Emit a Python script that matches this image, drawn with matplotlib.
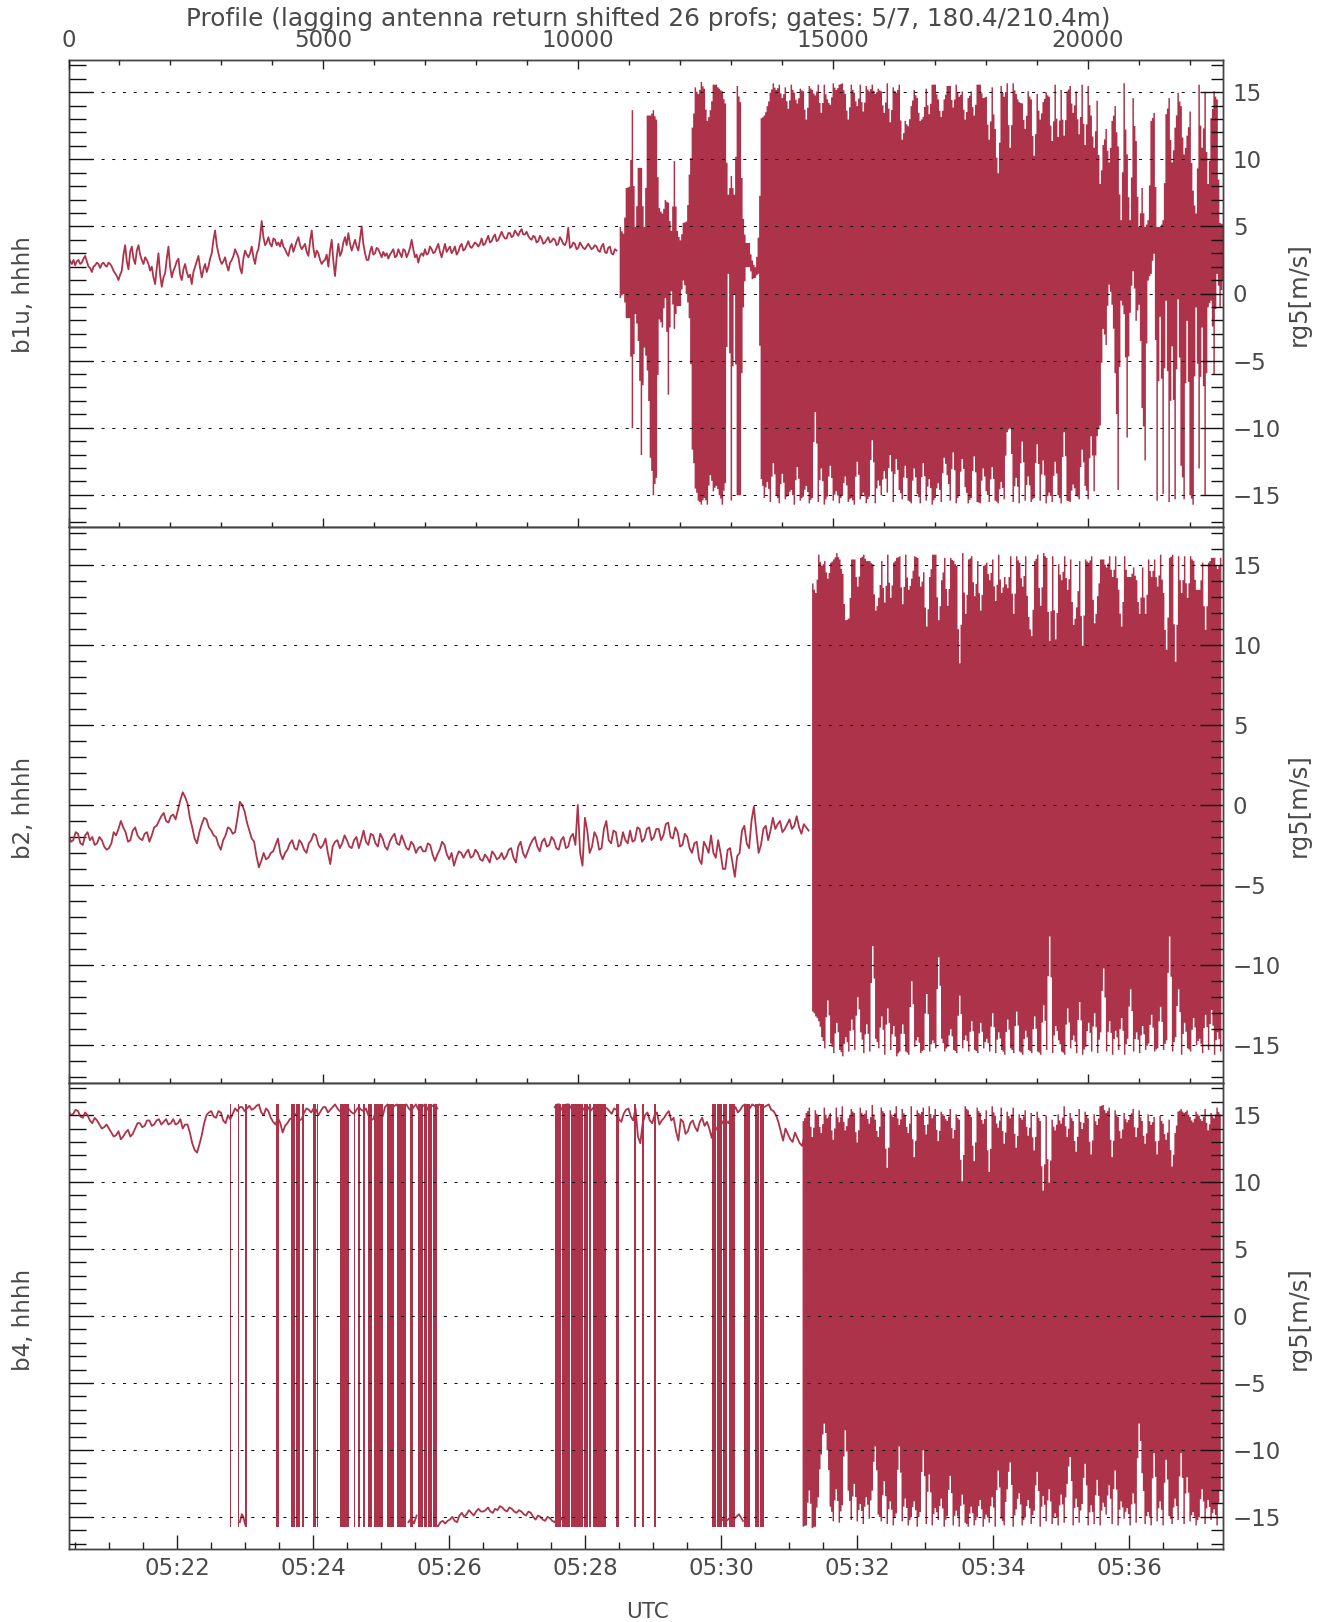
import numpy as np
import matplotlib
matplotlib.use("Agg")
import matplotlib.pyplot as plt
from matplotlib.ticker import FixedLocator, FuncFormatter

plt.rcParams['font.family'] = ['DejaVu Sans']
plt.rcParams['lines.scale_dashes'] = False
plt.rcParams['axes.unicode_minus'] = True

W, H = 1329, 1622
COL = '#AD334B'
INK = '#4a4a4a'

title_text = "Profile (lagging antenna return shifted 26 profs; gates: 5/7, 180.4/210.4m)"
panel_names = ["b1u, hhhh", "b2, hhhh", "b4, hhhh"]
right_name = "rg5[m/s]"
x_name = "UTC"
profile_ticks = [0, 5000, 10000, 15000, 20000]
utc_major = [22, 24, 26, 28, 30, 32, 34, 36]
y_major = [-15, -10, -5, 0, 5, 10, 15]

# time range in minutes after 05:00, profile range
t_range = (20.4, 37.38)
prof_range = (0, 22650)
y_range = (-17.4, 17.4)

# ---- b1u ------------------------------------------------------------------
b1u_quiet_start, b1u_quiet_step = 20.4, 0.049
b1u_quiet = [2.7,2.2,2.1,2.5,2.3,2.8,2.0,1.6,2.1,2.2,2.2,2.1,2.3,2.0,1.5,1.0,1.7,3.6,1.8,3.5,2.2,3.6,2.5,2.7,2.2,2.0,0.7,3.0,0.5,1.5,
3.5,1.2,2.0,2.6,1.0,2.2,1.2,0.7,2.0,2.8,1.2,2.2,2.0,3.0,4.7,3.0,2.2,2.7,1.7,2.5,3.3,2.7,1.5,3.2,2.7,3.5,2.2,3.3,5.4,3.6,
4.2,3.5,4.0,3.8,4.0,3.3,2.8,3.7,3.5,4.2,3.3,3.7,2.8,4.7,2.7,3.0,2.2,2.5,2.0,4.0,1.3,3.7,3.1,4.2,4.5,3.2,4.0,3.2,5.0,3.0,
2.5,3.5,3.0,3.3,2.7,2.8,2.6,3.1,2.7,3.3,2.7,3.2,3.0,4.0,2.7,2.3,3.0,3.3,3.0,3.3,3.1,3.7,2.7,3.7,3.3,
3.0,3.5,3.1,3.7,3.3,3.9,3.4,3.8,3.5,4.1,3.7,4.3,3.9,4.4,4.0,4.6,4.1,4.5,4.2,4.7,4.3,4.8,4.4,4.3,4.0,4.2,3.9,4.1,3.8,4.2,
3.9,4.0,3.7,4.0,3.6,4.9,3.5,3.7,3.4,3.6,3.3,3.7,3.3,3.6,3.2,3.5,3.1,3.4,3.0,3.3,2.9]
b1u_quiet_mid = [2.4,2.5,2.4,2.2,2.6,2.4,1.9,2.0,2.3,1.9,2.3,2.0,2.2,1.7,1.3,1.4,2.9,2.4,3.1,2.6,3.2,2.9,2.2,2.5,1.7,1.2,1.9,1.4,1.2,2.6,
2.0,1.7,2.4,1.4,1.8,1.6,1.4,1.6,2.4,1.9,1.8,1.6,2.6,4.0,3.6,2.5,2.4,2.1,2.3,2.8,3.0,1.9,2.6,2.9,3.0,2.7,3.0,4.2,4.2,3.8,
3.7,4.1,3.6,3.5,3.5,3.0,3.4,3.1,3.9,3.6,3.5,3.1,3.9,3.4,3.2,2.5,2.4,2.9,3.2,2.4,2.7,2.8,3.8,3.6,3.7,3.6,3.5,4.1,3.7,2.5,
3.1,2.9,3.4,3.0,3.1,3.0,2.9,3.3,2.8,3.0,3.3,2.7,3.4,3.3,2.9,2.8,2.8,2.9,3.5,3.0,3.4,3.1,3.2,3.1,3.5,
3.2,2.9,3.5,3.2,3.6,3.5,3.6,3.7,3.7,3.6,4.0,3.8,4.2,3.9,4.3,4.3,4.1,4.5,4.3,4.5,4.6,4.4,4.6,4.1,4.3,3.8,4.3,3.7,4.0,3.8,
4.1,3.6,4.2,3.7,3.9,3.4,3.8,3.3,3.8,3.4,3.5,3.5,3.4,3.5,3.1,3.7,3.0,3.5,2.9,3.2]
b1u_band_start, band_step = 28.51, 0.0441
b1u_hi = [5.0,4.5,7.9,8.0,13.7,5.0,9.4,9.4,5.0,13.3,13.3,13.7,13.0,6.4,6.0,7.0,6.8,4.7,9.9,4.7,4.0,5.3,5.4,8.9,
12.4,15.4,14.9,15.8,15.3,12.9,13.7,15.6,15.6,15.3,15.1,14.2,7.4,8.8,7.4,15.5,14.3,5.6,3.8,3.8,2.5,2.0,4.2,
13.1,13.3,14.0,15.0,15.7,15.2,15.6,14.6,15.4,13.8,15.6,15.0,14.2,15.3,15.1,13.0,15.5,15.2,14.8,15.6,13.5,15.6,14.5,14.1,
15.7,15.2,15.6,15.7,14.9,13.0,15.6,15.0,14.0,15.6,13.6,15.5,15.1,15.6,14.9,15.3,
15.1,13.5,15.7,12.8,15.4,15.0,15.6,11.5,12.9,12.5,14.0,15.2,14.6,12.9,13.2,15.3,13.4,15.6,15.6,14.5,13.2,14.5,15.5,15.5,13.9,15.6,14.7,15.1,13.0,14.6,
15.1,13.3,15.6,15.6,14.6,14.7,11.5,15.4,12.3,9.0,15.5,14.7,15.7,10.9,15.7,14.9,14.3,14.2,12.3,15.1,14.5,10.3,14.9,13.0,14.3,15.0,14.7,11.4,15.6,11.7,
15.2,11.8,15.1,15.5,13.5,15.1,11.9,15.6,11.1,15.5,13.3,10.9,14.4,
8.2,11.1,12.3,9.8,12.9,14.0,11.0,5.5,15.7,10.4,5.5,14.6,11.4,5.0,7.9,5.0,5.5,12.9,13.5,5.0,5.0,5.5,13.4,14.6,9.8,12.4,15.0,14.0,10.4,11.8,
13.6,7.7,6.0,15.6,10.9,15.0,8.2,13.1,15.1,14.5,5.3,5.2]
b1u_lo = [-0.3,0.0,-1.8,-1.8,-10.0,-1.5,-3.5,-12.0,-4.0,-5.7,-12.2,-15.0,-13.7,-1.9,-2.5,-0.3,-7.5,0.2,-2.6,-0.9,-0.9,1.0,0.0,-1.8,
-11.6,-14.5,-15.4,-15.7,-15.2,-15.7,-13.5,-14.7,-14.3,-15.0,-15.7,-14.1,1.5,-15.4,0.0,-15.0,-15.0,-1.0,2.0,2.0,1.1,1.2,1.5,
-13.8,-15.2,-14.0,-15.5,-12.6,-15.0,-15.6,-13.4,-15.3,-15.0,-14.6,-15.7,-12.9,-15.4,-15.1,-14.3,-15.6,-15.2,-8.8,-15.5,-13.0,-15.7,-15.1,-12.8,
-15.4,-14.7,-15.6,-15.0,-13.6,-15.5,-15.2,-15.7,-12.5,-15.3,-14.8,-15.6,-15.1,-10.9,-15.6,-13.9,
-15.0,-13.2,-14.8,-12.0,-15.5,-12.3,-14.6,-15.3,-12.8,-15.4,-15.6,-13.0,-14.9,-15.6,-12.6,-15.4,-13.8,-15.7,-15.2,-14.1,-15.5,-12.2,-13.5,-15.4,-11.8,-15.6,-15.0,-12.3,-14.4,-15.6,
-15.2,-12.1,-15.5,-15.6,-13.0,-14.7,-15.5,-12.9,-15.4,-15.6,-14.0,-15.3,-10.3,-10.0,-15.5,-13.7,-15.6,-11.0,-15.4,-13.6,-15.5,-15.2,-11.2,-15.4,-12.4,-15.6,-14.8,-15.5,-12.5,-15.0,
-15.6,-10.3,-15.4,-15.5,-14.2,
-15.0,-15.3,-11.6,-14.3,-15.3,-10.6,-14.7,-10.6,-9.8,-2.6,-3.8,0.7,-0.8,-5.9,-14.6,-0.5,-1.5,-10.7,-1.4,1.7,
-2.0,-0.8,-8.5,-12.4,1.0,1.5,3.0,-15.4,-1.7,-14.9,-0.5,-15.5,-3.9,-15.3,-0.4,-12.8,-15.3,-2.0,-15.0,-15.7,
-1.0,-13.0,-2.5,-15.0,-1.0,-0.5,-6.0,1.5,-1.0,1.0]

# ---- b2 -------------------------------------------------------------------
b2_quiet_start, b2_quiet_step = 20.4, 0.07
b2_quiet = [-1.9,-2.2,-1.8,-2.5,-1.7,-2.0,-2.4,-2.2,-2.8,-2.4,-1.9,-1.0,-1.7,-2.2,-1.4,-2.1,-1.8,-2.3,-1.4,-1.0,
-0.5,-1.1,-0.6,-0.3,0.8,0.1,-1.4,-2.4,-1.2,-0.9,-1.6,-2.0,-2.8,-1.9,-1.5,-1.7,0.2,-0.4,-1.6,-2.3,
-3.9,-3.0,-3.3,-2.9,-2.1,-3.4,-2.8,-2.2,-2.8,-2.4,-3.0,-2.2,-1.9,-2.7,-2.1,-3.7,-2.3,-2.7,-1.9,-2.6,
-2.2,-2.7,-1.6,-2.5,-1.9,-2.6,-2.1,-2.8,-2.0,-2.4,-1.9,-2.7,-2.3,-3.0,-2.6,-2.9,-2.5,-3.5,-2.8,-2.5,
-3.4,-3.8,-2.9,-3.3,-2.8,-3.2,-3.0,-3.5,-3.3,-2.9,-3.4,-3.0,-3.2,-2.7,-3.6,-2.3,-3.3,-2.5,-2.0,-2.9,
-2.1,-2.5,-2.2,-2.8,-2.0,-2.6,-1.8,0.0,-3.8,-1.6,-2.6,-2.0,-2.7,-1.0,-2.4,-1.7,-2.5,-2.2,-1.6,-2.2,
-1.5,-2.1,-1.4,-2.0,-1.5,-1.9,-1.1,-2.1,-1.7,-2.5,-2.0,-3.0,-2.3,-3.7,-2.6,-1.9,-3.3,-3.0,-4.0,-2.7,
-4.5,-3.0,-1.3,-2.7,-0.1,-3.0,-1.5,-2.2,-0.8,-1.2,-1.7,-1.2,-1.5,-0.7,-1.8,-1.4,-1.0]
b2_quiet_mid = [-2.3,-1.7,-2.4,-1.9,-2.2,-2.5,-2.0,-2.6,-2.7,-1.7,-1.5,-1.4,-2.3,-1.6,-1.9,-2.2,-1.7,-1.9,-1.3,-0.7,
-1.0,-0.7,-0.9,0.3,0.5,-0.8,-2.1,-1.7,-0.8,-1.4,-1.9,-2.5,-2.2,-1.4,-1.8,-0.8,0.0,-1.1,-2.1,-3.2,
-3.5,-3.4,-3.0,-2.5,-3.0,-3.0,-2.4,-2.7,-2.2,-2.8,-2.4,-1.8,-2.5,-2.5,-3.0,-2.6,-2.2,-2.4,-2.2,-2.7,
-2.0,-2.2,-2.3,-1.8,-2.4,-1.8,-2.6,-2.3,-1.8,-2.5,-2.3,-2.8,-2.5,-2.7,-2.9,-2.4,-3.1,-3.1,-2.3,-3.1,
-3.0,-3.3,-3.0,-3.0,-3.3,-2.8,-3.4,-3.1,-3.6,-3.1,-3.3,-3.4,-2.8,-3.3,-2.6,-3.0,-2.9,-2.2,-2.6,-2.3,
-2.6,-2.0,-2.7,-2.2,-2.7,-2.0,-2.5,-3.0,-0.8,-3.0,-1.7,-2.8,-1.5,-2.2,-1.6,-2.6,-1.7,-2.4,-2.3,-1.4,
-2.3,-1.5,-2.2,-1.5,-2.2,-1.2,-2.0,-1.4,-2.6,-1.8,-2.7,-2.4,-3.4,-2.3,-3.0,-3.0,-2.2,-4.0,-2.8,-3.6,
-3.2,-1.6,-2.4,-1.0,-1.6,-2.5,-1.3,-1.6,-1.5,-1.0,-1.5,-0.9,-1.3,-1.4,-1.2,-1.6]
b2_band_start = 31.34
b2_hi = [13.9,13.3,15.7,15.0,15.3,14.2,15.2,15.4,15.8,15.4,14.5,11.6,11.7,15.4,15.4,13.7,15.5,15.7,15.3,15.3,
15.1,12.2,13.0,15.3,12.7,15.7,13.0,15.2,15.5,15.6,12.6,15.7,13.5,14.2,15.6,15.5,13.7,14.6,11.2,14.3,
15.7,15.7,11.6,14.1,15.5,12.5,15.5,15.3,15.0,8.9,15.8,12.0,15.4,15.6,13.1,15.3,12.2,15.0,15.2,14.1,
15.4,12.8,15.7,13.3,14.3,13.6,15.6,12.0,15.6,15.2,13.7,15.6,11.8,10.6,15.3,15.7,12.5,15.8,15.5,10.3,
15.6,10.4,15.1,14.1,15.6,13.5,15.4,11.3,12.4,15.3,10.0,15.4,15.2,15.6,11.4,13.1,15.4,15.4,14.9,15.6,
14.3,15.6,13.5,11.2,15.6,14.3,14.3,14.9,14.1,12.0,14.9,12.0,15.4,14.3,15.4,13.7,15.7,13.3,9.75,15.5,
15.7,9.0,15.6,13.3,15.6,13.0,15.6,15.3,13.5,13.5,15.2,11.0,15.2,15.5,15.5,14.8,15.5]
b2_lo = [-12.9,-13.2,-13.5,-14.5,-15.2,-12.2,-14.9,-15.5,-13.6,-15.3,-15.7,-14.5,-15.4,-13.4,-15.3,-12.0,-14.2,-15.5,-13.7,-15.4,
-8.8,-14.6,-15.2,-13.2,-15.6,-12.7,-15.3,-13.8,-15.7,-15.4,-13.7,-15.4,-15.6,-11.0,-15.1,-14.5,-15.5,-15.3,-11.8,-15.4,
-14.7,-15.2,-9.5,-14.6,-15.4,-15.1,-14.0,-15.3,-15.5,-11.9,-15.2,-14.4,-15.4,-13.5,-15.3,-15.5,-13.6,-15.2,-14.6,-15.4,
-13.0,-15.5,-14.2,-15.3,-15.6,-13.4,-15.2,-15.5,-12.9,-15.4,-15.6,-14.1,-15.3,-15.5,-13.2,-15.4,-15.6,-12.5,-15.3,-8.2,
-15.5,-13.8,-14.7,-15.4,-15.6,-12.7,-15.2,-14.4,-15.5,-12.3,-15.6,-15.1,-13.6,-15.4,-13.0,-15.5,-14.2,-10.2,-15.4,-13.5,
-15.6,-14.1,-15.3,-13.3,-15.6,-14.6,-11.5,-15.4,-14.2,-15.5,-13.8,-15.3,-14.9,-13.1,-15.4,-15.2,-12.6,-15.3,-14.7,-8.2,
-15.4,-14.5,-11.5,-15.6,-13.6,-15.2,-15.4,-13.3,-15.0,-14.6,-15.5,-13.1,-15.3,-12.8,-15.6,-14.2,-15.4]

# ---- b4 -------------------------------------------------------------------
b4_upper_a_start, b4_upper_step = 20.4, 0.07
b4_upper_a = [15.3,15.1,15.3,14.8,15.0,14.4,14.6,14.0,14.3,13.7,13.5,13.2,13.7,13.4,14.0,14.4,14.2,14.6,14.3,14.7,
14.5,14.3,14.7,14.4,14.0,14.3,12.9,12.2,13.5,15.0,15.3,14.8,15.2,14.4,14.7,15.5,15.6,15.3,15.7,15.5,
15.8,15.0,15.3,14.5,14.8,13.7,14.4,14.8,15.0,14.7,15.5,15.2,15.4,15.3,15.6,15.4,15.8,15.3,15.6,15.4,
15.1,15.6,15.3,15.0,14.7,15.5,14.9,15.8,15.5,15.8,15.4,15.8,15.3,15.8,15.5,15.8,15.6,15.8]
b4_upper_a_mid = [15.0,15.4,14.9,15.2,14.6,14.8,14.3,14.1,14.0,13.4,13.8,13.4,13.9,13.6,14.4,14.1,14.6,14.2,14.6,14.3,
14.7,14.4,14.3,14.7,14.3,13.7,12.4,12.8,14.4,15.2,14.9,15.3,14.6,15.0,15.1,15.3,15.6,15.5,15.4,15.7,
15.2,15.5,14.8,14.3,14.4,14.2,14.7,15.1,14.6,15.2,15.4,15.5,15.0,15.6,15.2,15.6,15.5,15.4,15.7,15.2,
15.4,15.4,15.5,14.6,15.2,15.2,15.6,15.4,15.7,15.3,15.7,15.5,15.6,15.4,15.7,15.4,15.7,15.5]
b4_upper_b_start = 27.55
b4_upper_b = [15.6,15.8,15.5,15.8,15.5,15.7,15.4,15.6,15.5,15.6,15.2,15.5,15.1,15.4,14.5,15.4,14.9,15.5,12.9,15.0,
14.6,15.0,14.3,14.8,15.3,14.8,13.1,14.5,13.8,14.6,13.8,14.8,14.5,13.3,14.0,14.3,14.6,14.8,15.6,15.4,
15.8,15.5,15.7,15.8,15.6,15.8,15.3,14.5,13.1,13.6,13.0,13.3,12.7,13.3,12.7,13.1,12.0,12.4,12.0,12.6,
12.3,12.6]
b4_upper_b_mid = [15.8,15.4,15.8,15.5,15.7,15.4,15.7,15.3,15.7,15.3,15.6,15.3,15.5,14.7,15.1,15.5,14.6,13.4,14.4,15.2,
14.4,15.2,14.6,15.1,14.6,13.8,14.7,13.6,14.4,14.1,14.5,14.2,14.0,14.3,13.7,14.6,14.4,15.3,15.2,15.7,
15.4,15.8,15.5,15.7,15.7,15.4,15.0,13.8,14.0,13.2,13.7,12.9,13.5,13.0,12.5,13.0,12.3,12.1,12.7,12.2,12.7,12.2]
b4_lower_start, b4_lower_step = 25.8, 0.07
b4_lower = [-15.6,-15.4,-15.5,-15.2,-15.3,-14.9,-15.0,-14.5,-14.9,-14.4,-14.6,-14.3,-14.7,-14.5,-14.3,-14.6,-14.4,-14.7,-14.6,-14.9,
-14.7,-15.2,-15.0,-15.3,-15.1,-15.4,-14.9,-15.3]
b4_lower_mid = [-15.7,-15.3,-15.3,-15.0,-15.4,-14.7,-14.8,-14.7,-14.6,-14.6,-14.5,-14.6,-14.4,-14.2,-14.5,-14.3,-14.6,-14.5,-14.8,-14.6,
-15.0,-14.9,-15.2,-15.0,-15.3,-15.1,-15.2,-15.4]
b4_small_t = [22.92, 22.95, 22.97, 23.0, 25.4, 25.44, 25.48, 25.52, 29.95, 30.0, 30.05, 30.1, 30.14, 30.2, 30.26, 30.32]
b4_small_v = [-15.4, -14.8, -15.0, -15.6, -15.4, -15.1, -15.5, -14.9, -15.3, -15.1, -15.4, -15.2, -15.0, -15.1, -14.8, -15.3]
burst_start = [22.775,22.90,22.996,23.45,23.67,23.75,23.83,24.00,24.06,24.39,24.60,24.66,24.73,24.81,24.89,25.08,25.23,25.42,25.54,25.63,25.69,25.76,
27.55,27.66,27.79,27.98,28.06,28.11,28.45,28.72,28.83,29.01,29.86,29.94,30.03,30.12,30.33,30.49,30.57]
burst_end = [22.79,22.91,23.02,23.50,23.73,23.80,23.87,24.04,24.07,24.53,24.62,24.69,24.76,24.87,25.03,25.18,25.37,25.46,25.61,25.67,25.74,25.82,
27.65,27.78,27.96,28.04,28.09,28.30,28.49,28.74,28.86,29.04,29.93,30.01,30.09,30.20,30.42,30.55,30.63]
burst_hi, burst_lo = 15.85, -15.75
b4_band_start = 31.20
b4_hi = [14.6,15.2,15.6,13.4,15.4,15.0,13.7,15.6,14.8,15.2,13.2,15.6,14.5,15.7,13.9,14.8,15.5,15.2,13.0,15.6,
15.0,15.4,14.4,15.8,14.7,13.4,15.6,15.2,11.1,15.4,14.9,15.7,14.3,15.5,15.0,13.7,15.7,11.9,15.4,15.1,
15.6,13.6,15.7,14.8,15.5,13.1,15.3,15.0,14.6,15.5,13.3,15.1,14.7,10.1,15.7,15.4,14.9,11.6,15.6,15.2,
14.4,15.4,10.8,15.7,15.0,14.1,15.6,12.9,15.3,14.8,15.6,12.6,15.1,14.7,15.4,13.5,15.2,12.4,15.3,14.6,
9.4,15.0,10.0,14.7,13.9,15.1,14.4,15.7,13.4,15.2,14.6,12.3,15.5,14.0,15.3,14.8,12.1,15.1,14.3,15.7,
15.8,15.2,15.6,11.9,15.4,14.9,13.3,15.2,14.5,15.0,15.5,13.4,15.4,14.6,12.9,15.1,14.3,14.9,12.1,15.0,
14.4,13.2,14.7,11.2,13.7,15.3,15.5,15.2,15.4,14.9,14.5,15.3,15.0,14.6,15.5,13.9,15.2,14.8,15.6,15.1]
b4_lo = [-15.7,-15.6,-13.0,-15.8,-15.7,-13.5,-10.3,-8.0,-10.0,-14.2,-15.3,-12.9,-15.4,-14.1,-8.5,-13.0,-15.2,-12.5,-15.3,-14.0,
-15.5,-13.5,-15.1,-13.0,-9.7,-14.8,-15.3,-12.3,-15.5,-13.8,-15.6,-14.7,-9.7,-15.3,-13.6,-15.6,-15.0,-13.8,-15.7,-14.6,
-10.0,-15.5,-11.8,-15.6,-14.3,-15.2,-13.6,-15.7,-14.9,-11.9,-15.6,-14.5,-15.7,-13.3,-15.4,-15.7,-14.2,-15.6,-15.0,-13.7,
-15.7,-14.8,-15.4,-13.5,-15.7,-11.5,-15.1,-15.6,-12.9,-10.9,-15.7,-14.4,-13.2,-15.6,-15.0,-13.7,-15.5,-14.5,-11.6,-15.7,
-13.4,-15.3,-12.9,-15.5,-14.7,-15.6,-13.3,-15.4,-12.5,-10.5,-15.6,-13.6,-15.4,-14.0,-11.0,-15.6,-14.1,-15.5,-12.2,-15.6,
-13.9,-14.8,-12.6,-15.5,-11.5,-15.6,-13.8,-15.1,-14.3,-15.6,-13.2,-15.4,-8.0,-11.7,-15.5,-14.6,-15.6,-10.2,-15.3,-13.8,
-15.6,-10.7,-14.9,-15.5,-13.6,-15.2,-10.2,-15.5,-12.0,-15.3,-14.6,-15.6,-15.0,-12.9,-15.5,-13.7,-15.2,-14.4,-15.6,-13.0]


def px_axes(top, bottom):
    left, right = 68.5, 1223.0
    return fig.add_axes([left / W, 1 - bottom / H, (right - left) / W, (bottom - top) / H])


def plot_woven(ax, start, step, a, b):
    """One trace whose samples alternate between the two read-off lists."""
    n = min(len(a), len(b))
    x = start + np.arange(2 * n) * step / 2
    y = np.empty(2 * n)
    y[0::2] = a[:n]
    y[1::2] = b[:n]
    ax.plot(x, y, color=COL, lw=1.3, zorder=2)


def draw_band(ax, start, step, hi, lo):
    """Each read-off column is drawn narrow; between columns the edge sits nearer the inner one."""
    n = min(len(hi), len(lo))
    hi = np.asarray(hi[:n], float)
    lo = np.asarray(lo[:n], float)
    c = start + np.arange(n) * step
    w = step * 0.25
    xs, ys_hi, ys_lo = [], [], []
    for i in range(n):
        j = min(i + 1, n - 1)
        xs += [c[i] - w, c[i] + w]
        ys_hi += [hi[i], min(hi[i], hi[j]) + 0.35 * abs(hi[i] - hi[j])]
        ys_lo += [lo[i], max(lo[i], lo[j]) - 0.35 * abs(lo[i] - lo[j])]
    ax.fill_between(xs, ys_lo, ys_hi, step='post', color=COL, lw=0, zorder=2)


fig = plt.figure(figsize=(W / 100, H / 100), dpi=100)
axes = [px_axes(60, 527), px_axes(527, 1083), px_axes(1083, 1549)]
LW = 1.0
QLW = 1.3

# data
a1, a2, a3 = axes
plot_woven(a1, b1u_quiet_start, b1u_quiet_step, b1u_quiet, b1u_quiet_mid)
draw_band(a1, b1u_band_start, band_step, b1u_hi, b1u_lo)
plot_woven(a2, b2_quiet_start, b2_quiet_step, b2_quiet, b2_quiet_mid)
draw_band(a2, b2_band_start, band_step, b2_hi, b2_lo)
plot_woven(a3, b4_upper_a_start, b4_upper_step, b4_upper_a, b4_upper_a_mid)
plot_woven(a3, b4_upper_b_start, b4_upper_step, b4_upper_b, b4_upper_b_mid)
plot_woven(a3, b4_lower_start, b4_lower_step, b4_lower, b4_lower_mid)
a3.plot(b4_small_t[:4], b4_small_v[:4], color=COL, lw=QLW, zorder=2)
a3.plot(b4_small_t[4:8], b4_small_v[4:8], color=COL, lw=QLW, zorder=2)
a3.plot(b4_small_t[8:], b4_small_v[8:], color=COL, lw=QLW, zorder=2)
for s, e in zip(burst_start, burst_end):
    a3.fill_between([s, e], [burst_lo, burst_lo], [burst_hi, burst_hi], color=COL, lw=0, zorder=2)
draw_band(a3, b4_band_start, band_step, b4_hi, b4_lo)

minor_y = np.arange(-17, 18)
minor_prof = np.arange(0, 23000, 1000)
minor_t = np.arange(20.5, 37.5, 0.5)

for i, ax in enumerate(axes):
    ax.set_xlim(*t_range)
    ax.set_ylim(*y_range)
    for sp in ax.spines.values():
        sp.set_linewidth(LW)
        sp.set_color('#222222')
    # left ticks (inward)
    ax.yaxis.set_major_locator(FixedLocator(y_major))
    ax.yaxis.set_minor_locator(FixedLocator(minor_y))
    ax.tick_params(axis='y', which='major', direction='in', length=17.3, width=LW, color='#111111',
                   labelleft=False, left=True, right=False)
    ax.tick_params(axis='y', which='minor', direction='in', length=12.2, width=LW, color='#111111',
                   left=True, right=False)
    # bottom ticks: UTC on last panel only
    if i == 2:
        ax.xaxis.set_major_locator(FixedLocator(utc_major))
        ax.xaxis.set_minor_locator(FixedLocator(minor_t))
        ax.xaxis.set_major_formatter(FuncFormatter(lambda v, p: "05:%02d" % v))
        ax.tick_params(axis='x', which='major', direction='in', length=10, width=LW, color='#222222',
                       labelsize=16.5, labelcolor=INK, pad=6, top=False, bottom=True)
        ax.tick_params(axis='x', which='minor', direction='in', length=5, width=LW, color='#222222',
                       top=False, bottom=True)
    else:
        ax.tick_params(axis='x', which='both', bottom=False, top=False, labelbottom=False)
        low = ax.twiny()
        low.set_xlim(*prof_range)
        low.xaxis.set_ticks_position('bottom')
        low.xaxis.set_major_locator(FixedLocator(profile_ticks))
        low.xaxis.set_minor_locator(FixedLocator(minor_prof))
        low.tick_params(axis='x', which='major', direction='in', length=6.5, width=LW, color='#222222',
                        labelbottom=False, labeltop=False)
        low.tick_params(axis='x', which='minor', direction='in', length=3.6, width=LW, color='#222222')
        for sp in low.spines.values():
            sp.set_visible(False)
    # right ticks and labels, grid
    tw = ax.twinx()
    tw.set_ylim(*y_range)
    tw.yaxis.set_major_locator(FixedLocator(y_major))
    tw.yaxis.set_minor_locator(FixedLocator(minor_y))
    tw.tick_params(axis='y', which='major', direction='in', length=16.6, width=LW, color='#111111',
                   labelsize=16.5, labelcolor=INK, pad=7)
    tw.tick_params(axis='y', which='minor', direction='in', length=8.4, width=LW, color='#111111')
    for sp in tw.spines.values():
        sp.set_linewidth(LW)
        sp.set_color('#444444')
    tw.hlines(y_major, t_range[0], t_range[1], colors='#111111', linewidth=0.75,
              linestyles=(0, (2.2, 5.5)), zorder=5)
    tw.set_xlim(*t_range)

top = a1.twiny()
top.set_xlim(*prof_range)
top.xaxis.set_major_locator(FixedLocator(profile_ticks))
top.xaxis.set_minor_locator(FixedLocator(minor_prof))
top.tick_params(axis='x', which='major', direction='in', length=6.5, width=LW, color='#222222',
                labelsize=16.5, labelcolor=INK, pad=6)
top.tick_params(axis='x', which='minor', direction='in', length=3.6, width=LW, color='#222222')
for sp in top.spines.values():
    sp.set_visible(False)


def ftext(x, y, s, **kw):
    fig.text(x / W, 1 - y / H, s, ha='center', va='center', color=INK, **kw)


ftext(648, 19, title_text, fontsize=17.8)
ftext(647, 1612, x_name, fontsize=15.5)
for name, yc in zip(panel_names, [295, 808, 1320]):
    ftext(24, yc, name, fontsize=16.5, rotation=90)
for yc in [294, 805, 1318]:
    ftext(1299, yc, right_name, fontsize=17.5, rotation=90)

fig.savefig('out.png', dpi=100, facecolor='white')
